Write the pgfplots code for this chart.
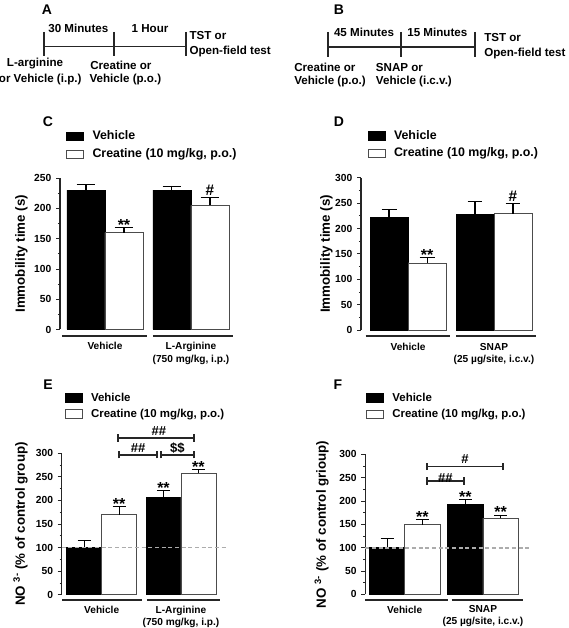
\documentclass[border=0pt]{standalone}
\usepackage{fontspec}
\setmainfont{Liberation Sans}
\usepackage{pgfplots}
\pgfplotsset{compat=1.18}
\newcommand\fs[1]{\fontsize{#1}{#1}\selectfont\bfseries}
\pgfplotsset{
  panel/.style={
    scale only axis, anchor=south west, clip=false,
    axis lines*=left,
    x axis line style={draw=none},
    y axis line style={line width=0.8pt, black!85},
    xtick={0,1}, xtick style={draw=none},
    ymin=0,
    tick align=outside,
    major tick length=3pt, minor tick length=1.6pt,
    ytick style={line width=0.6pt, black!85},
    minor y tick num=1,
    ybar=0pt,
    /pgf/number format/assume math mode=true,
    yticklabel style={font=\fs{7.7}},
    xticklabel style={font=\fontsize{7.6}{9.3}\selectfont\bfseries, align=center, yshift=-3.3pt},
    ylabel style={font=\fs{10}, anchor=south},
    legend cell align=left,
    legend style={draw=none, fill=none, inner sep=0pt, column sep=6.5pt, anchor=north west,
      nodes={inner sep=0pt, text height=7pt, text depth=2pt}},
    legend image code/.code={\draw[##1] (0pt,-3.2pt) rectangle (12.75pt,3.2pt);},
  },
  veh/.style={fill=black, draw=black, line width=0.5pt},
  cre/.style={fill=white, draw=black!70, line width=0.6pt},
  eb/.style={error bars/.cd, y dir=plus, y explicit,
    error bar style={line width=0.8pt, black, mark size=#1}},
}
\tikzset{
  ann/.style={font=\fs{12}, anchor=base, yshift=-2.25pt, inner sep=0pt},
  hsh/.style={font=\fs{11.5}, anchor=base, yshift=1.2pt, inner sep=0pt},
  brl/.style={font=\fs{9.8}, anchor=base, yshift=1.8pt, inner sep=0pt},
  uline/.style={line width=1.4pt, black!85},
  brk/.style={line width=1.4pt, black!85},
  refl/.style={gray!65, dash pattern=on 3pt off 2pt, line width=1.3pt},
  tl/.style={line width=1.4pt, black!85},
}
\begin{document}
\begin{tikzpicture}[x=0.75pt,y=0.75pt,font=\bfseries]
\useasboundingbox (0,0) rectangle (568,628);

% ---------- A : timeline ----------
\node[font=\fs{10.5}, anchor=base] at (47,628-15) {A};
\draw[tl] (44.3,628-46.5) -- (185.7,628-46.5);
\foreach \x in {44.3,114.3,185.7} \draw[tl] (\x,628-32) -- (\x,628-56.5);
\begin{scope}[every node/.style={font=\fs{8.7}, inner sep=0pt}]
\node[anchor=base] at (78.3,628-33) {30 Minutes};
\node[anchor=base] at (150,628-33) {1 Hour};
\node[anchor=base west] at (189.3,628-40) {TST or};
\node[anchor=base west] at (189.3,628-55) {Open-field test};
\node[anchor=base] at (35,628-66.5) {L-arginine};
\node[anchor=base east] at (81.7,628-83) {or Vehicle (i.p.)};
\node[anchor=base west] at (90,628-70) {Creatine or};
\node[anchor=base west] at (89.3,628-83) {Vehicle (p.o.)};
\end{scope}

% ---------- B : timeline ----------
\node[font=\fs{10.5}, anchor=base] at (339,628-15) {B};
\draw[tl] (328.3,628-46.7) -- (474.7,628-46.7);
\foreach \x in {328.3,400.7,474.7} \draw[tl] (\x,628-32) -- (\x,628-56.7);
\begin{scope}[every node/.style={font=\fs{8.7}, inner sep=0pt}]
\node[anchor=base] at (364,628-36.5) {45 Minutes};
\node[anchor=base] at (437.3,628-36.5) {15 Minutes};
\node[anchor=base west] at (484,628-41.5) {TST or};
\node[anchor=base west] at (484,628-56.5) {Open-field test};
\node[anchor=base west] at (294,628-71.5) {Creatine or};
\node[anchor=base west] at (294,628-85) {Vehicle (p.o.)};
\node[anchor=base west] at (375.7,628-71.5) {SNAP or};
\node[anchor=base west] at (375.7,628-85) {Vehicle (i.c.v.)};
\end{scope}

% ---------- C ----------
\node[font=\fs{10.5}, anchor=base] at (48,628-127) {C};
\begin{axis}[panel, at={(45pt,223.875pt)}, width=131.25pt, height=113.6pt,
  xmin=-0.523, xmax=1.512, ymax=250, ytick={0,50,...,250}, bar width=0.442,
  xticklabels={Vehicle,{L-Arginine\\(750 mg/kg, i.p.)}},
  ylabel={Immobility time (s)}, ylabel style={at={(axis description cs:-0.158,0.5)}},
  legend style={at={(axis description cs:0.033,1.317)}, font=\fs{9.3}, row sep=4.5pt}]
\addplot[veh, eb=7pt] coordinates {(0,230) +- (0,10) (1,230) +- (0,7)};
\addplot[cre, eb=7pt] coordinates {(0,160) +- (0,8) (1,205) +- (0,13)};
\legend{Vehicle,{Creatine (10 mg/kg, p.o.)}}
\draw[uline] (axis cs:-0.5,-10.7) -- (axis cs:0.488,-10.7);
\draw[uline] (axis cs:0.558,-10.7) -- (axis cs:1.488,-10.7);
\node[ann] at (axis cs:0.221,168) {**};
\node[hsh] at (axis cs:1.221,218) {\#};
\end{axis}

% ---------- D ----------
\node[font=\fs{10.5}, anchor=base] at (339,628-127) {D};
\begin{axis}[panel, at={(270.75pt,223.5pt)}, width=134.25pt, height=114.2pt,
  xmin=-0.547, xmax=1.535, ymax=300, ytick={0,50,...,300}, bar width=0.442,
  xticklabels={Vehicle,{SNAP\\(25 µg/site, i.c.v.)}},
  ylabel={Immobility time (s)}, ylabel style={at={(axis description cs:-0.132,0.5)}},
  legend style={at={(axis description cs:0.035,1.315)}, font=\fs{9.3}, row sep=4.2pt}]
\addplot[veh, eb=5.6pt] coordinates {(0,221) +- (0,16) (1,227) +- (0,26)};
\addplot[cre, eb=5.6pt] coordinates {(0,132) +- (0,11) (1,229) +- (0,21)};
\legend{Vehicle,{Creatine (10 mg/kg, p.o.)}}
\draw[uline] (axis cs:-0.492,-11.8) -- (axis cs:0.485,-11.8);
\draw[uline] (axis cs:0.562,-11.8) -- (axis cs:1.485,-11.8);
\node[ann] at (axis cs:0.221,143) {**};
\node[hsh] at (axis cs:1.221,250) {\#};
\end{axis}

% ---------- E ----------
\node[font=\fs{10.5}, anchor=base] at (48,628-390) {E};
\begin{axis}[panel, at={(46.275pt,24.975pt)}, width=124.5pt, height=106.05pt,
  xmin=-0.504, xmax=1.589, ymax=300, ytick={0,50,...,300}, bar width=0.441,
  xticklabels={Vehicle,{L-Arginine\\(750 mg/kg, i.p.)}},
  xticklabel style={font=\fontsize{7.6}{9}\selectfont\bfseries, yshift=1.3pt},
  ylabel={NO \textsuperscript{3-} (\% of control group)}, ylabel style={at={(axis description cs:-0.177,0.5)}},
  legend style={at={(axis description cs:0.016,1.436)}, font=\fs{8.6}, row sep=3pt}]
\addplot[veh, eb=4.9pt] coordinates {(0,100) +- (0,16) (1,206) +- (0,16)};
\addplot[cre, eb=4.9pt] coordinates {(0,170) +- (0,17) (1,258) +- (0,8)};
\legend{Vehicle,{Creatine (10 mg/kg, p.o.)}}
\draw[refl] (axis cs:-0.504,100) -- (axis cs:1.589,100);
\draw[uline] (axis cs:-0.5,-11.9) -- (axis cs:0.508,-11.9);
\draw[uline] (axis cs:0.571,-11.9) -- (axis cs:1.49,-11.9);
\node[ann] at (axis cs:0.2205,187) {**};
\node[ann] at (axis cs:0.7795,222) {**};
\node[ann] at (axis cs:1.2205,266) {**};
% brackets
\draw[brk] (axis cs:0.206,333) -- (axis cs:1.164,333);
\draw[brk] (axis cs:0.206,325) -- (axis cs:0.206,341);
\draw[brk] (axis cs:1.164,325) -- (axis cs:1.164,341);
\node[brl] at (axis cs:0.72,333) {\#\#};
\draw[brk] (axis cs:0.22,297) -- (axis cs:0.697,297);
\draw[brk] (axis cs:0.22,289) -- (axis cs:0.22,305);
\draw[brk] (axis cs:0.697,289) -- (axis cs:0.697,305);
\node[brl] at (axis cs:0.46,297) {\#\#};
\draw[brk] (axis cs:0.748,297) -- (axis cs:1.164,297);
\draw[brk] (axis cs:0.748,289) -- (axis cs:0.748,305);
\draw[brk] (axis cs:1.164,289) -- (axis cs:1.164,305);
\node[brl] at (axis cs:0.956,297) {\$\$};
\end{axis}

% ---------- F ----------
\node[font=\fs{10.5}, anchor=base] at (338,628-390) {F};
\begin{axis}[panel, at={(273.975pt,25.275pt)}, width=124pt, height=105pt,
  xmin=-0.503, xmax=1.609, ymax=300, ytick={0,50,...,300}, bar width=0.45,
  xticklabels={Vehicle,{SNAP\\(25 µg/site, i.c.v.)}},
  xticklabel style={font=\fontsize{7.6}{9}\selectfont\bfseries, yshift=1.3pt},
  ylabel={NO \textsuperscript{3-} (\% of control grioup)}, ylabel style={at={(axis description cs:-0.193,0.5)}},
  legend style={at={(axis description cs:0.002,1.447)}, font=\fs{8.6}, row sep=3.4pt}]
\addplot[veh, eb=4.9pt] coordinates {(0,100) +- (0,20) (1,192) +- (0,12)};
\addplot[cre, eb=4.9pt] coordinates {(0,149) +- (0,12) (1,163) +- (0,7)};
\legend{Vehicle,{Creatine (10 mg/kg, p.o.)}}
\draw[refl] (axis cs:-0.503,100) -- (axis cs:1.609,100);
\draw[uline] (axis cs:-0.503,-12.9) -- (axis cs:0.555,-12.9);
\draw[uline] (axis cs:0.6,-12.9) -- (axis cs:1.51,-12.9);
\node[ann] at (axis cs:0.225,161) {**};
\node[ann] at (axis cs:0.775,204) {**};
\node[ann] at (axis cs:1.225,170) {**};
% brackets
\draw[brk] (axis cs:0.281,274) -- (axis cs:1.26,274);
\draw[brk] (axis cs:0.281,266) -- (axis cs:0.281,282);
\draw[brk] (axis cs:1.26,266) -- (axis cs:1.26,282);
\node[brl, yshift=0.3pt] at (axis cs:0.77,274) {\#};
\draw[brk] (axis cs:0.281,243) -- (axis cs:0.757,243);
\draw[brk] (axis cs:0.281,235) -- (axis cs:0.281,251);
\draw[brk] (axis cs:0.757,235) -- (axis cs:0.757,251);
\node[brl, yshift=-3pt] at (axis cs:0.519,243) {\#\#};
\end{axis}
\end{tikzpicture}
\end{document}
